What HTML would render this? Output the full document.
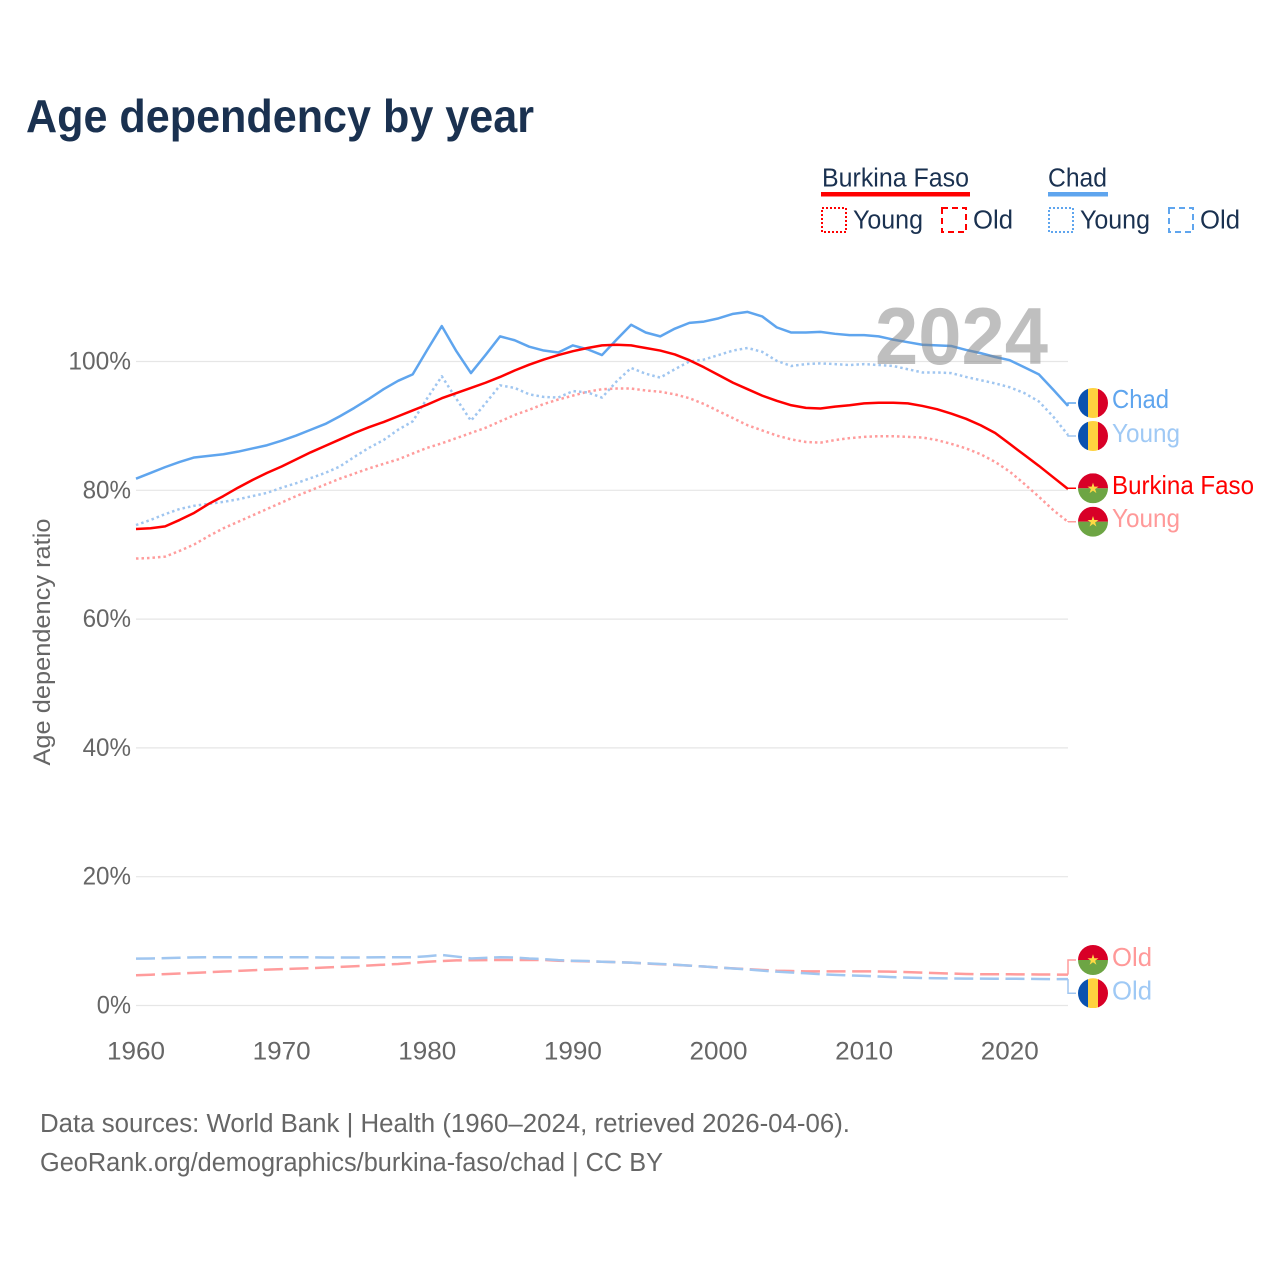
<!DOCTYPE html>
<html lang="en">
<head>
<meta charset="utf-8">
<title>Age dependency by year</title>
<style>
html,body{margin:0;padding:0;background:#fff;}
svg{display:block;font-family:"Liberation Sans",sans-serif;}
</style>
</head>
<body>
<svg id="chart" xmlns="http://www.w3.org/2000/svg" width="1280" height="1280" viewBox="0 0 1280 1280">
  <rect width="1280" height="1280" fill="#fff"/>
  <text x="26" y="132" font-size="46" font-weight="700" fill="#1a3150" textLength="508" lengthAdjust="spacingAndGlyphs">Age dependency by year</text>

  <g fill="#1a3150" font-size="25.5">
    <text x="822" y="186.5" textLength="147" lengthAdjust="spacingAndGlyphs">Burkina Faso</text>
    <rect x="821" y="192" width="149" height="4.5" fill="#ff0000"/>
    <rect x="822" y="208" width="24" height="24" fill="none" stroke="#ff0000" stroke-width="2" stroke-dasharray="2 2"/>
    <text x="853" y="228.5" textLength="70" lengthAdjust="spacingAndGlyphs">Young</text>
    <rect x="942" y="208" width="24" height="24" fill="none" stroke="#ff0000" stroke-width="2" stroke-dasharray="6 4"/>
    <text x="973" y="228.5" textLength="40" lengthAdjust="spacingAndGlyphs">Old</text>
    <text x="1048" y="186.5" textLength="59" lengthAdjust="spacingAndGlyphs">Chad</text>
    <rect x="1048" y="192" width="60" height="4.5" fill="#5fa5ee"/>
    <rect x="1049" y="208" width="24" height="24" fill="none" stroke="#5fa5ee" stroke-width="2" stroke-dasharray="2 2"/>
    <text x="1080" y="228.5" textLength="70" lengthAdjust="spacingAndGlyphs">Young</text>
    <rect x="1169" y="208" width="24" height="24" fill="none" stroke="#5fa5ee" stroke-width="2" stroke-dasharray="6 4"/>
    <text x="1200" y="228.5" textLength="40" lengthAdjust="spacingAndGlyphs">Old</text>
  </g>

  <g id="grid"></g>
  <g id="yticks" font-size="25" fill="#666" text-anchor="end"></g>
  <g id="xticks" font-size="25" fill="#666" text-anchor="middle"></g>
  <text transform="translate(50 642) rotate(-90)" text-anchor="middle" font-size="24" fill="#666" textLength="247" lengthAdjust="spacingAndGlyphs">Age dependency ratio</text>

  <g id="series"></g>

  <text x="875" y="364" font-size="81" font-weight="700" fill="#808080" fill-opacity="0.5" textLength="173" lengthAdjust="spacingAndGlyphs">2024</text>

  <defs>
    <clipPath id="c1"><circle cx="1093" cy="403" r="15"/></clipPath>
    <clipPath id="c2"><circle cx="1093" cy="436" r="15"/></clipPath>
    <clipPath id="c3"><circle cx="1093" cy="488.3" r="15"/></clipPath>
    <clipPath id="c4"><circle cx="1093" cy="521.7" r="15"/></clipPath>
    <clipPath id="c5"><circle cx="1093" cy="960" r="15"/></clipPath>
    <clipPath id="c6"><circle cx="1093" cy="993.3" r="15"/></clipPath>
  </defs>

  <g clip-path="url(#c1)">
    <rect x="1078" y="388" width="10" height="30" fill="#0a52b0"/><rect x="1088" y="388" width="10" height="30" fill="#ffd23f"/><rect x="1098" y="388" width="10" height="30" fill="#d80027"/>
  </g>
  <g clip-path="url(#c2)">
    <rect x="1078" y="421" width="10" height="30" fill="#0a52b0"/><rect x="1088" y="421" width="10" height="30" fill="#ffd23f"/><rect x="1098" y="421" width="10" height="30" fill="#d80027"/>
  </g>
  <g clip-path="url(#c3)">
    <rect x="1078" y="473.3" width="30" height="15" fill="#d80027"/><rect x="1078" y="488.3" width="30" height="15" fill="#6da544"/>
    <polygon points="1093,482.6 1094.3,486.6 1098.5,486.6 1095.1,489.1 1096.4,493.1 1093,490.6 1089.6,493.1 1090.9,489.1 1087.5,486.6 1091.7,486.6" fill="#ffda44"/>
  </g>
  <g clip-path="url(#c4)">
    <rect x="1078" y="506.7" width="30" height="15" fill="#d80027"/><rect x="1078" y="521.7" width="30" height="15" fill="#6da544"/>
    <polygon points="1093,516 1094.3,520 1098.5,520 1095.1,522.5 1096.4,526.5 1093,524 1089.6,526.5 1090.9,522.5 1087.5,520 1091.7,520" fill="#ffda44"/>
  </g>
  <g clip-path="url(#c5)">
    <rect x="1078" y="945" width="30" height="15" fill="#d80027"/><rect x="1078" y="960" width="30" height="15" fill="#6da544"/>
    <polygon points="1093,954.3 1094.3,958.3 1098.5,958.3 1095.1,960.8 1096.4,964.8 1093,962.3 1089.6,964.8 1090.9,960.8 1087.5,958.3 1091.7,958.3" fill="#ffda44"/>
  </g>
  <g clip-path="url(#c6)">
    <rect x="1078" y="978" width="10" height="30" fill="#0a52b0"/><rect x="1088" y="978" width="10" height="30" fill="#ffd23f"/><rect x="1098" y="978" width="10" height="30" fill="#d80027"/>
  </g>

  <g font-size="26">
    <text x="1112" y="408" fill="#5fa5ee" textLength="57" lengthAdjust="spacingAndGlyphs">Chad</text>
    <text x="1112" y="442" fill="#9fc9f5" textLength="68" lengthAdjust="spacingAndGlyphs">Young</text>
    <text x="1112" y="494" fill="#ff0000" textLength="142" lengthAdjust="spacingAndGlyphs">Burkina Faso</text>
    <text x="1112" y="527" fill="#ff9999" textLength="68" lengthAdjust="spacingAndGlyphs">Young</text>
    <text x="1112" y="966" fill="#ff9999" textLength="40" lengthAdjust="spacingAndGlyphs">Old</text>
    <text x="1112" y="999.5" fill="#9fc9f5" textLength="40" lengthAdjust="spacingAndGlyphs">Old</text>
  </g>

  <g font-size="25.5" fill="#666">
    <text x="40" y="1132" textLength="810" lengthAdjust="spacingAndGlyphs">Data sources: World Bank | Health (1960–2024, retrieved 2026-04-06).</text>
    <text x="40" y="1171" textLength="623" lengthAdjust="spacingAndGlyphs">GeoRank.org/demographics/burkina-faso/chad | CC BY</text>
  </g>
</svg>

<script>
const firstYear = 1960;
const xTickLabels = [1960, 1970, 1980, 1990, 2000, 2010, 2020];
const yTickValues = [0, 20, 40, 60, 80, 100];

const chadTotal = [81.8,82.7,83.6,84.4,85.1,85.35,85.6,86.0,86.5,87.0,87.7,88.5,89.4,90.3,91.5,92.8,94.2,95.7,97.0,98.0,101.8,105.5,101.6,98.2,101.0,103.9,103.3,102.3,101.7,101.4,102.5,101.9,101.0,103.4,105.7,104.5,103.9,105.1,106.0,106.2,106.7,107.4,107.7,107.0,105.3,104.5,104.5,104.6,104.3,104.1,104.1,103.9,103.4,103.0,102.6,102.5,102.4,101.8,101.3,100.7,100.2,99.1,98.0,95.6,93.1];
const chadYoung = [74.6,75.4,76.3,77.1,77.6,77.9,78.2,78.6,79.1,79.6,80.4,81.1,81.9,82.7,83.7,85.2,86.6,87.8,89.4,90.7,94.3,97.7,94.2,90.8,93.5,96.3,95.9,94.9,94.5,94.4,95.4,95.2,94.4,96.9,99.0,98.1,97.5,98.8,100.0,100.3,101.0,101.7,102.1,101.5,100.1,99.3,99.6,99.7,99.6,99.45,99.6,99.45,99.3,98.8,98.3,98.3,98.2,97.6,97.1,96.6,96.0,95.1,93.8,91.4,88.6];
const chadOld = [7.27,7.3,7.35,7.42,7.48,7.5,7.5,7.5,7.5,7.5,7.5,7.5,7.48,7.46,7.45,7.45,7.47,7.5,7.5,7.5,7.65,7.85,7.6,7.3,7.4,7.5,7.45,7.3,7.2,7.05,6.95,6.9,6.8,6.72,6.65,6.55,6.45,6.35,6.2,6.05,5.9,5.75,5.6,5.42,5.25,5.12,5.0,4.87,4.75,4.67,4.6,4.5,4.4,4.33,4.27,4.23,4.2,4.18,4.17,4.16,4.15,4.14,4.12,4.1,4.1];
const burkinaTotal = [74.0,74.1,74.4,75.4,76.5,77.9,79.1,80.4,81.6,82.7,83.7,84.8,85.9,86.9,87.9,88.9,89.8,90.6,91.5,92.4,93.3,94.3,95.1,95.9,96.7,97.6,98.6,99.5,100.3,101.0,101.6,102.1,102.5,102.6,102.5,102.1,101.7,101.1,100.2,99.1,97.9,96.7,95.7,94.7,93.9,93.2,92.8,92.7,93.0,93.2,93.5,93.6,93.6,93.5,93.1,92.6,91.9,91.1,90.1,88.9,87.2,85.5,83.8,82.0,80.2];
const burkinaYoung = [69.4,69.5,69.7,70.6,71.6,72.9,74.1,75.1,76.1,77.1,78.1,79.1,80.0,80.9,81.8,82.6,83.4,84.1,84.8,85.7,86.6,87.3,88.1,88.9,89.7,90.7,91.7,92.5,93.4,94.1,94.7,95.3,95.7,95.8,95.8,95.5,95.3,94.9,94.3,93.4,92.3,91.2,90.1,89.3,88.5,87.9,87.5,87.4,87.8,88.1,88.3,88.4,88.4,88.3,88.2,87.8,87.2,86.5,85.6,84.4,82.9,81.0,79.0,76.9,75.1];
const burkinaOld = [4.7,4.78,4.87,4.97,5.07,5.17,5.27,5.37,5.47,5.57,5.65,5.72,5.8,5.9,6.0,6.1,6.22,6.33,6.45,6.63,6.8,6.9,7.0,7.03,7.05,7.07,7.07,7.07,7.07,6.95,6.9,6.85,6.8,6.72,6.65,6.52,6.4,6.3,6.2,6.05,5.9,5.77,5.65,5.52,5.4,5.35,5.3,5.3,5.3,5.3,5.3,5.28,5.25,5.18,5.1,5.02,4.95,4.9,4.85,4.85,4.85,4.83,4.82,4.8,4.8];

const NS = 'http://www.w3.org/2000/svg';
function xScale(year) { return 136 + (year - firstYear) * 14.5625; }
function yScale(value) { return 1005.5 - value * 6.44; }
function make(tag, attrs, parent) {
  const el = document.createElementNS(NS, tag);
  for (const k in attrs) el.setAttribute(k, attrs[k]);
  parent.appendChild(el);
  return el;
}

const grid = document.getElementById('grid');
const yticks = document.getElementById('yticks');
const xticks = document.getElementById('xticks');
const seriesLayer = document.getElementById('series');

yTickValues.forEach(function (v) {
  const line = make('line', { x1: 136, x2: 1068, y1: yScale(v), y2: yScale(v), stroke: '#e6e6e6', 'stroke-width': 1.2 }, grid);
  
  
  const label = String(v) + '%';
  const t = make('text', { x: 131, y: yScale(v) + 8, textLength: (label.length - 1) * 14.2 + 20, lengthAdjust: 'spacingAndGlyphs' }, yticks);
  
  
  t.textContent = label;
});

xTickLabels.forEach(function (year) {
  const t = make('text', { x: xScale(year), y: 1059.5, textLength: 58, lengthAdjust: 'spacingAndGlyphs' }, xticks);
  
  
  t.textContent = String(year);
});

function drawSeries(values, name, color, width, dash, elbowY) {
  const pts = values.map(function (v, i) { return xScale(firstYear + i).toFixed(2) + ',' + yScale(v).toFixed(2); });
  const attrs = { points: pts.join(' '), fill: 'none', stroke: color, 'stroke-width': width, 'stroke-linejoin': 'round' };
  if (dash) attrs['stroke-dasharray'] = dash;
  const line = make('polyline', attrs, seriesLayer);
  
  
  const endX = xScale(firstYear + values.length - 1);
  const endY = yScale(values[values.length - 1]);
  const link = make('polyline', { points: endX + ',' + endY + ' ' + endX + ',' + elbowY + ' 1076,' + elbowY, fill: 'none', stroke: color, 'stroke-width': 1.5 }, seriesLayer);
  
  
}

drawSeries(burkinaOld, 'burkina-faso-old-line', '#ff9c9c', 2.5, '19 6.6', 960);
drawSeries(chadOld, 'chad-old-line', '#a0c6f0', 2.5, '19 6.6', 993.3);
drawSeries(burkinaYoung, 'burkina-faso-young-line', '#ff9c9c', 2.5, '2.5 3', 521.7);
drawSeries(chadYoung, 'chad-young-line', '#a0c6f0', 2.5, '2.5 3', 436);
drawSeries(chadTotal, 'chad-total-line', '#5fa5ee', 2.5, null, 403);
drawSeries(burkinaTotal, 'burkina-faso-total-line', '#ff0000', 2.5, null, 488.3);
</script>
</body>
</html>
